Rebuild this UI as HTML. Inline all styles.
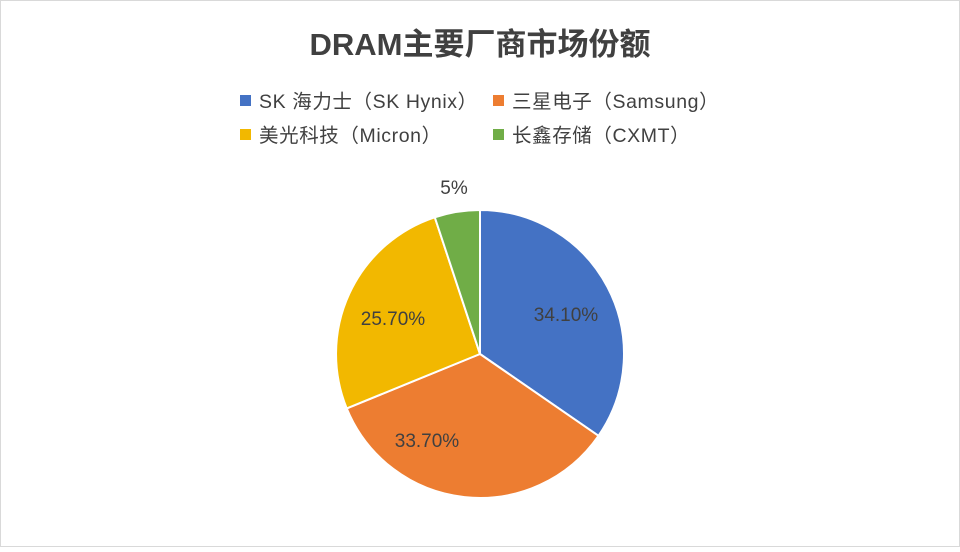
<!DOCTYPE html>
<html><head><meta charset="utf-8"><style>
html,body{margin:0;padding:0;background:#fff;}
body{width:960px;height:547px;overflow:hidden;}
</style></head><body>
<svg width="960" height="547" viewBox="0 0 960 547" xmlns="http://www.w3.org/2000/svg" font-family="Liberation Sans, Noto Sans CJK SC, sans-serif">
<rect x="0.5" y="0.5" width="959" height="546" fill="#fff" stroke="#d9d9d9"/>
<text x="480" y="55" text-anchor="middle" font-size="31" font-weight="bold" fill="#404040">DRAM主要厂商市场份额</text>
<g font-size="19.5" fill="#404040" letter-spacing="0.6">
<rect x="240" y="95" width="11" height="11" fill="#4472C4"/>
<text x="259" y="108">SK 海力士（SK Hynix）</text>
<rect x="493" y="95" width="11" height="11" fill="#ED7D31"/>
<text x="512" y="108">三星电子（Samsung）</text>
<rect x="240" y="129" width="11" height="11" fill="#F2B800"/>
<text x="259" y="142">美光科技（Micron）</text>
<rect x="493" y="129" width="11" height="11" fill="#70AD47"/>
<text x="512" y="142">长鑫存储（CXMT）</text>
</g>
<g stroke="#fff" stroke-width="2" stroke-linejoin="round">
<path d="M480,354 L480,210 A144,144 0 0 1 598.5,435.8 Z" fill="#4472C4"/>
<path d="M480,354 L598.5,435.8 A144,144 0 0 1 346.7,408.4 Z" fill="#ED7D31"/>
<path d="M480,354 L346.7,408.4 A144,144 0 0 1 434.8,217.3 Z" fill="#F2B800"/>
<path d="M480,354 L434.8,217.3 A144,144 0 0 1 480,210 Z" fill="#70AD47"/>
</g>
<g font-size="19" fill="#404040" text-anchor="middle">
<text x="566" y="321">34.10%</text>
<text x="427" y="447">33.70%</text>
<text x="393" y="325">25.70%</text>
<text x="454" y="194">5%</text>
</g>
</svg>
</body></html>
